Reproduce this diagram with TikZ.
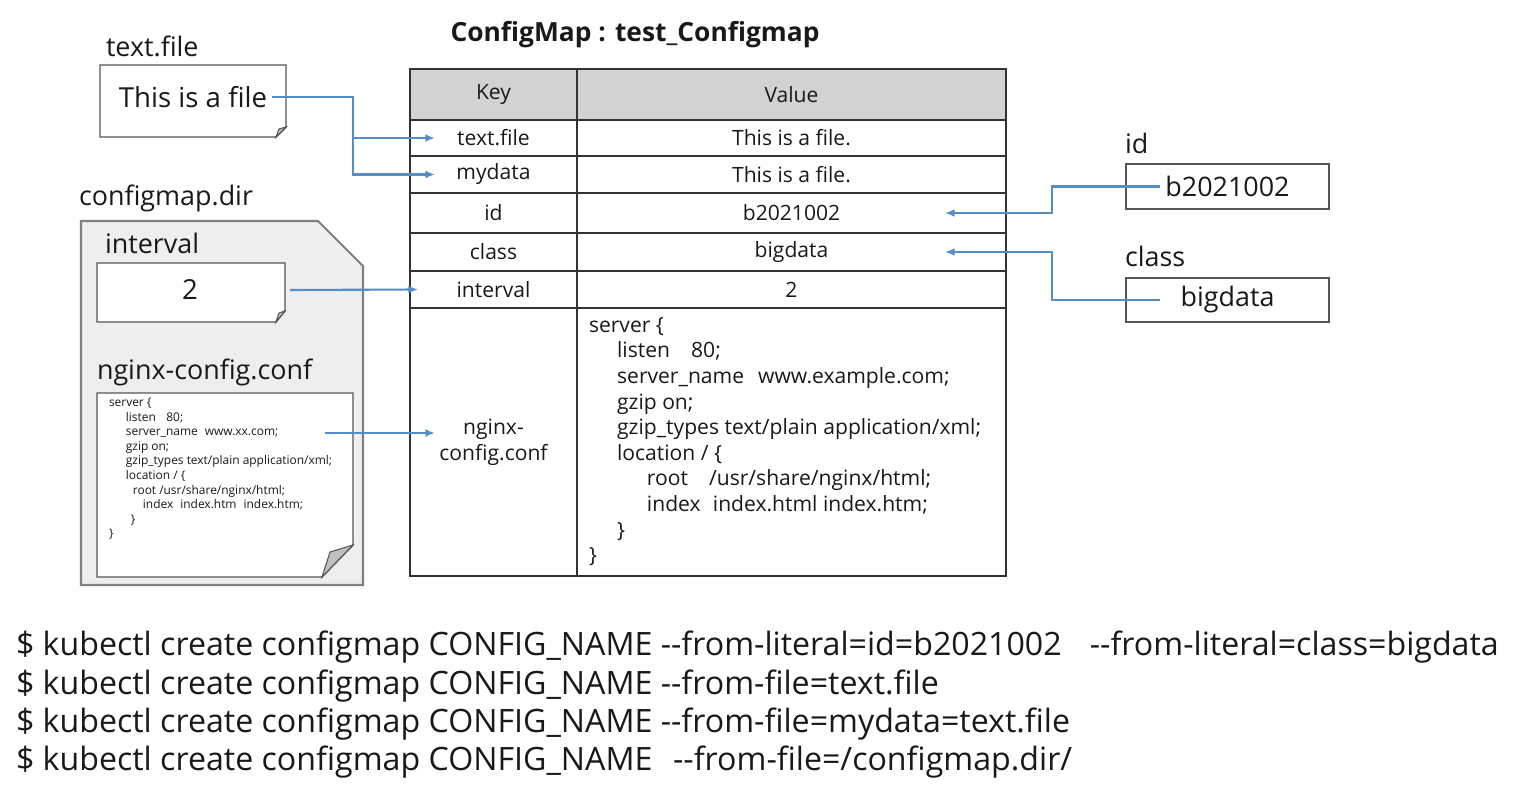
\documentclass[tikz,border=0pt]{standalone}
\usepackage{fontspec}
\setmainfont{Open Sans}
\usetikzlibrary{arrows.meta,positioning}
\definecolor{lnblue}{RGB}{84,141,199}
\definecolor{hdgray}{RGB}{210,210,210}
\definecolor{dirgray}{RGB}{238,238,238}
\definecolor{edgegray}{RGB}{85,85,85}
\newcommand\px{0.02cm}
\newcommand\twodash{-\kern0pt-}
\begin{document}
\begin{tikzpicture}[x=0.02cm,y=-0.02cm,every node/.style={inner sep=0pt, outer sep=0pt, text=black!90},
cell/.style={draw=black!80, line width=0.9pt, anchor=north west, font=\fontsize{12}{15}\selectfont, align=center},
filebox/.style={draw=edgegray, line width=0.8pt, fill=white},
fold/.style={draw=edgegray, line width=0.6pt, fill=black!25},
lbl/.style={anchor=west, font=\fontsize{15.3}{17}\selectfont},
cmd/.style={anchor=west, font=\fontsize{18.3}{20}\selectfont},
link/.style={draw=lnblue, line width=1.2pt, -{Latex[length=5.5pt,width=4.5pt]}}]
\useasboundingbox (0,0) rectangle (1522,792);
\node[font=\bfseries\fontsize{15}{17}\selectfont] (title) at (635,35) {ConfigMap : test\_Configmap};
% table
\node[cell, fill=hdgray, minimum width=167*\px, minimum height=51*\px] (k0) at (410,69) {Key};
\node[cell, fill=hdgray, minimum width=429*\px, minimum height=51*\px] (v0) at (577,69) {Value};
\foreach \n/\y/\h/\k/\v in {1/120/36/text.file/This is a file., 2/156/37/mydata/This is a file., 3/193/40/id/b2021002, 4/233/38/class/bigdata, 5/271/37/interval/2} {
\node[cell, minimum width=167*\px, minimum height=\h*\px] (k\n) at (410,\y) {\k};
\node[cell, minimum width=429*\px, minimum height=\h*\px] (v\n) at (577,\y) {\v};
}
\node[cell, minimum width=167*\px, minimum height=268*\px] (k6) at (410,308) {nginx-\\config.conf};
\node[cell, minimum width=429*\px, minimum height=268*\px] (v6) at (577,308) {};
\node[anchor=north west, align=left, font=\fontsize{12}{14.6}\selectfont] (code) at (589,317) {server \{\\
\hspace*{16pt}listen\hspace*{12pt}80;\\
\hspace*{16pt}server\_name\hspace*{8pt}www.example.com;\\
\hspace*{16pt}gzip on;\\
\hspace*{16pt}gzip\_types text/plain application/xml;\\
\hspace*{16pt}location / \{\\
\hspace*{33pt}root\hspace*{12pt}/usr/share/nginx/html;\\
\hspace*{33pt}index\hspace*{7pt}index.html index.htm;\\
\hspace*{16pt}\}\\
\}};
% text.file
\node[lbl] (tflbl) at (106,46) {text.file};
\draw[filebox] (100,65) -- (286,65) -- (286,127) -- (276,137) -- (100,137) -- cycle;
\draw[fold] (276,137) -- (279,129) -- (286,127) -- cycle;
\node[font=\fontsize{15.7}{17}\selectfont, inner xsep=3pt] (tf) at (193,97) {This is a file};
% configmap.dir
\node[lbl] (dirlbl) at (79,198) {configmap.dir};
\draw[draw=black!50, line width=1.2pt, fill=dirgray] (81,221) -- (318,221) -- (363,266) -- (363,585) -- (81,585) -- cycle;
\node[lbl] (ivlbl) at (105,243) {interval};
\draw[filebox] (97,263) -- (285,263) -- (285,311) -- (276,322) -- (97,322) -- cycle;
\draw[fold] (276,322) -- (279,313) -- (285,311) -- cycle;
\node[font=\fontsize{15.7}{17}\selectfont] (iv) at (190,290) {2};
\coordinate (ivout) at (290,290);
\node[lbl] (nglbl) at (97,372) {nginx-config.conf};
\draw[filebox] (97,393) -- (353,393) -- (353,545) -- (322,577) -- (97,577) -- cycle;
\draw[fold] (322,577) -- (330,552) -- (353,545) -- cycle;
\node[anchor=north west, align=left, font=\fontsize{6.8}{8.3}\selectfont] (smallcode) at (109,398) {server \{\\
\hspace*{9.6pt}listen\hspace*{6pt}80;\\
\hspace*{9.6pt}server\_name\hspace*{4pt}www.xx.com;\\
\hspace*{9.6pt}gzip on;\\
\hspace*{9.6pt}gzip\_types text/plain application/xml;\\
\hspace*{9.6pt}location / \{\\
\hspace*{13.6pt}root /usr/share/nginx/html;\\
\hspace*{19.3pt}index\hspace*{4pt}index.htm\hspace*{4pt}index.htm;\\
\hspace*{12.5pt}\}\\
\}};
\coordinate (ngout) at (325,433);
% id / class
\node[lbl] (idlbl) at (1125,143) {id};
\node[draw=edgegray, line width=0.8pt, anchor=north west, minimum width=203*\px, minimum height=45*\px, font=\fontsize{15.3}{17}\selectfont] (idbox) at (1126,164) {b2021002};
\node[lbl] (clslbl) at (1125,256) {class};
\node[draw=edgegray, line width=0.8pt, anchor=north west, minimum width=203*\px, minimum height=44*\px, font=\fontsize{15.3}{17}\selectfont] (clsbox) at (1126,278) {bigdata};
% links
\draw[link] (tf.east) -- ++(81,0) |- ([xshift=25*\px]k1.west);
\draw[link] (tf.east) -- ++(81,0) |- ([xshift=25*\px]k2.west);
\draw[link] (ivout) -- ([xshift=8*\px]k5.west);
\draw[link, shorten >=-25*\px] (ngout) -- (ngout -| k6.west);
\draw[link] ([xshift=34*\px]idbox.west) -- ++(-108,0) |- ([xshift=-61*\px]v3.east);
\draw[link] ([xshift=34*\px]clsbox.west) -- ++(-108,0) |- ([xshift=-61*\px]v4.east);
% commands
\node[cmd] (cmd1) at (16,647) {\$ kubectl create configmap CONFIG\_NAME \twodash from-literal=id=b2021002\hspace*{16pt}\twodash from-literal=class=bigdata};
\node[cmd] (cmd2) at (16,686) {\$ kubectl create configmap CONFIG\_NAME \twodash from-file=text.file};
\node[cmd] (cmd3) at (16,724) {\$ kubectl create configmap CONFIG\_NAME \twodash from-file=mydata=text.file};
\node[cmd] (cmd4) at (16,762) {\$ kubectl create configmap CONFIG\_NAME\hspace*{7pt} \twodash from-file=/configmap.dir/};
\end{tikzpicture}
\end{document}
